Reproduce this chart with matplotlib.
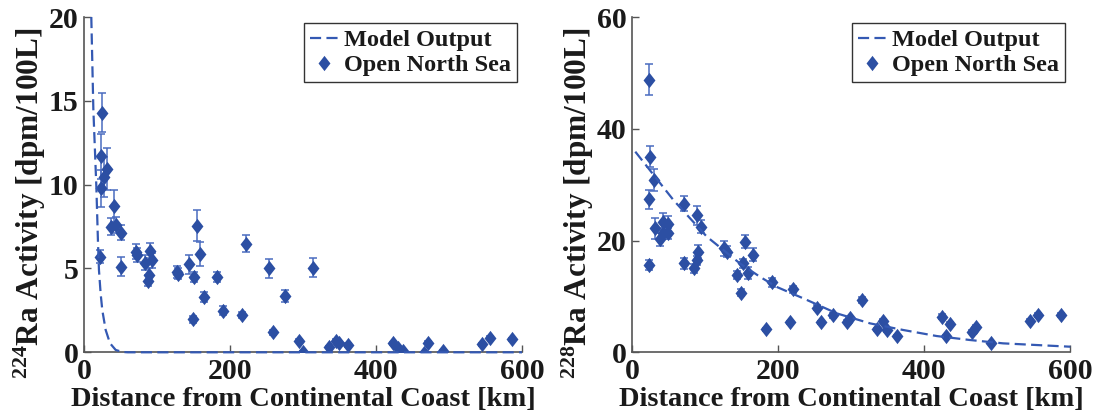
import numpy as np
import matplotlib
matplotlib.use("Agg")
import matplotlib.pyplot as plt
from matplotlib.path import Path
from matplotlib.lines import Line2D

plt.rcParams['font.family'] = ['Liberation Serif', 'DejaVu Serif']
plt.rcParams['font.weight'] = 'bold'
plt.rcParams['mathtext.fontset'] = 'custom'
plt.rcParams['mathtext.rm'] = 'Liberation Serif:bold'
plt.rcParams['mathtext.bf'] = 'Liberation Serif:bold'
plt.rcParams['mathtext.default'] = 'bf'

# --- 224Ra observations (distance km, activity, uncertainty) ---
ra224_dist = [24.2, 22.9, 31.0, 27.3, 22.9, 41.1, 36.5, 43.4, 50.3, 21.9,
              50.3, 70.8, 73.0, 83.6, 90.0, 93.6, 89.0, 87.7, 126.8, 129.0,
              143.8, 150.7, 155.3, 158.9, 148.9, 164.8, 182.6, 190.0, 216.0, 221.5,
              253.0, 258.5, 275.3, 294.0, 300.0, 314.0, 336.0, 345.0, 349.7, 362.0,
              423.8, 430.5, 436.6, 466.0, 470.7, 492.0, 544.7, 556.0, 586.7]
ra224_act = [14.3, 11.68, 10.94, 10.45, 9.79, 8.73, 7.5, 7.6, 7.14, 5.71,
             5.11, 6.0, 5.8, 5.35, 6.07, 5.5, 4.61, 4.28, 4.81, 4.7,
             5.25, 4.51, 7.54, 5.85, 1.97, 3.28, 4.51, 2.49, 2.23, 6.47,
             5.01, 1.19, 3.38, 0.69, 0.0, 5.05, 0.33, 0.7, 0.54, 0.44,
             0.54, 0.24, 0.1, -0.06, 0.57, 0.1, 0.48, 0.87, 0.78]
ra224_err = [1.15, 1.35, 1.25, 1.2, 1.1, 0.95, 0.5, 0.5, 0.45, 0.4,
             0.55, 0.45, 0.4, 0.45, 0.45, 0.45, 0.4, 0.35, 0.35, 0.3,
             0.55, 0.3, 0.93, 0.7, 0.2, 0.3, 0.3, 0.25, 0.2, 0.5,
             0.55, 0.15, 0.35, 0.1, 0.05, 0.55, 0.05, 0.1, 0.1, 0.1,
             0.1, 0.05, 0.05, 0.05, 0.1, 0.05, 0.1, 0.1, 0.1]

# --- 224Ra model curve ---
model224_dist = [10.0, 12.8, 16.9, 19.2, 20.5, 22.8, 25.1, 29.7, 35.6, 43.4, 52.5, 60.0, 600.0]
model224_act = [20.0, 14.5, 9.9, 6.5, 4.9, 3.5, 2.5, 1.33, 0.54, 0.14, 0.02, 0.0, 0.0]

# --- 228Ra observations ---
ra228_dist = [23.3, 24.2, 29.7, 22.9, 31.1, 42.5, 49.3, 38.0, 41.6, 49.3,
              22.9, 71.2, 89.0, 93.7, 71.2, 85.0, 88.2, 90.0, 126.0, 129.3,
              154.4, 165.0, 151.2, 143.0, 158.9, 149.0, 191.0, 182.7, 216.0, 219.7,
              252.6, 258.5, 274.5, 294.5, 298.0, 314.0, 334.7, 343.8, 348.5, 362.0,
              423.8, 435.0, 429.3, 465.8, 470.8, 491.4, 544.8, 556.2, 586.8]
ra228_act = [48.8, 35.0, 30.8, 27.4, 22.2, 23.4, 22.9, 20.2, 21.3, 21.3,
             15.6, 26.6, 24.5, 22.5, 15.9, 15.0, 16.5, 18.0, 18.6, 18.0,
             19.8, 17.5, 15.9, 13.8, 14.2, 10.7, 12.5, 4.1, 5.35, 11.3,
             8.0, 5.35, 6.6, 5.5, 6.1, 9.35, 4.1, 5.65, 4.0, 2.9,
             6.4, 5.1, 2.9, 3.7, 4.6, 1.6, 5.65, 6.67, 6.67]
ra228_err = [2.77, 1.9, 2.0, 1.7, 1.9, 1.5, 1.5, 1.2, 1.0, 1.0,
             0.9, 1.3, 1.7, 1.2, 1.0, 0.8, 0.8, 1.2, 1.4, 1.0,
             1.2, 1.1, 0.8, 0.7, 1.0, 0.6, 0.8, 0.3, 0.3, 0.6,
             0.5, 0.3, 0.4, 0.3, 0.3, 0.5, 0.3, 0.3, 0.3, 0.2,
             0.4, 0.3, 0.2, 0.3, 0.3, 0.2, 0.3, 0.4, 0.4]

# --- 228Ra model curve ---
model228_dist = [4.1, 56.6, 102.0, 147.5, 175.0, 197.8, 234.3, 280.0, 325.6,
                 371.2, 417.0, 462.5, 508.0, 600.0]
model228_act = [35.9, 27.2, 20.7, 15.9, 13.5, 11.7, 9.65, 6.97, 5.18,
                3.99, 2.91, 2.2, 1.6, 1.0]

MARK = '#2c4fa3'
LINE = '#3459b3'
ERR = '#4a6cc0'
SPINE = '#555555'
TXT = '#1a1a1a'
DASH = (0, (5.0, 2.4))

# MATLAB-style diamond: taller than wide
diamond = Path([(0, 1), (0.78, 0), (0, -1), (-0.78, 0), (0, 1)],
               [Path.MOVETO, Path.LINETO, Path.LINETO, Path.LINETO, Path.CLOSEPOLY])

fig = plt.figure(figsize=(10.97, 4.15), dpi=100)
W, H = 1097, 415


def panel(px0, dist, act, err, mdist, mact, ymax, yticks, ylabel):
    ax = fig.add_axes([px0 / W, 1 - 352.3 / H, 438 / W, 335.3 / H])
    ax.errorbar(dist, act, yerr=err, fmt='none', ecolor=ERR, elinewidth=1.1,
                capsize=3.2, capthick=1.1, zorder=2)
    ax.plot(mdist, mact, color=LINE, lw=1.6, linestyle=DASH,
            zorder=4, clip_on=False)
    ax.plot(dist, act, linestyle='none', marker=diamond, markersize=11,
            color=MARK, markeredgewidth=0, zorder=3)
    ax.set_xlim(0, 600)
    ax.set_ylim(0, ymax)
    ax.set_xticks([0, 200, 400, 600])
    ax.set_yticks(yticks)
    for s in ['top', 'right']:
        ax.spines[s].set_visible(False)
    for s in ['left', 'bottom']:
        ax.spines[s].set_color(SPINE)
        ax.spines[s].set_linewidth(1.2)
    ax.tick_params(direction='in', length=5, width=1.0, color=SPINE,
                   labelsize=21.5, labelcolor=TXT, pad=4)
    ax.tick_params(axis='x', pad=4)
    for lab in ax.get_xticklabels() + ax.get_yticklabels():
        lab.set_fontweight('bold')
    ax.set_xlabel('Distance from Continental Coast [km]', fontsize=20.5,
                  fontweight='bold', labelpad=1.5, color=TXT)
    ax.set_ylabel(ylabel, fontsize=22.5, fontweight='bold', color=TXT)
    ax.yaxis.set_label_coords(-36 / 438, 0.445)
    handles = [Line2D([], [], color=LINE, lw=1.6, linestyle=DASH),
               Line2D([], [], linestyle='none', marker=diamond, markersize=11,
                      color=MARK, markeredgewidth=0)]
    leg = ax.legend(handles, ['Model Output', 'Open North Sea'],
                    loc='upper right', bbox_to_anchor=(433 / 438, 1 - 6 / 335.3),
                    prop={'family': 'Liberation Serif', 'weight': 'bold', 'size': 17.5},
                    frameon=True, fancybox=False, edgecolor='black',
                    handlelength=1.15, handletextpad=0.25, borderpad=0.25,
                    labelspacing=0.12, borderaxespad=0.0)
    leg.get_frame().set_linewidth(1.0)
    for t in leg.get_texts():
        t.set_color(TXT)
    return ax


panel(84, ra224_dist, ra224_act, ra224_err, model224_dist, model224_act,
      20, [0, 5, 10, 15, 20], r'$^{224}$Ra Activity [dpm/100L]')
panel(632.3, ra228_dist, ra228_act, ra228_err, model228_dist, model228_act,
      60, [0, 20, 40, 60], r'$^{228}$Ra Activity [dpm/100L]')

fig.savefig('out.png', dpi=100)
